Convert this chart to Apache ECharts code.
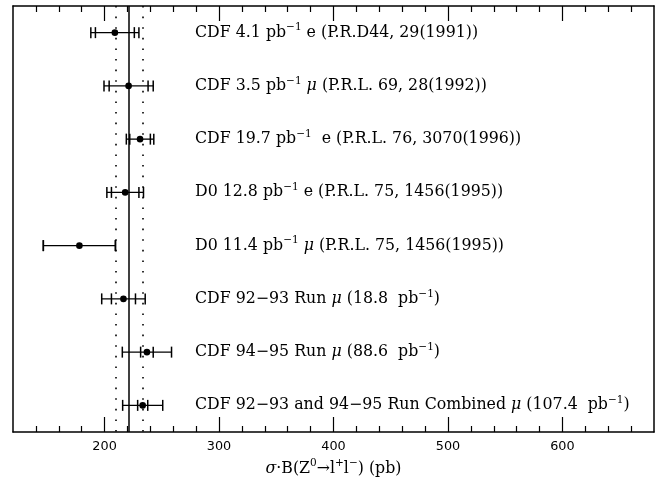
<!DOCTYPE html>
<html>
<head>
<meta charset="utf-8">
<script src="https://cdn.jsdelivr.net/npm/echarts@6/dist/echarts.min.js"></script>
<style>html,body{margin:0;padding:0;background:#fff;}#c{width:665px;height:478px;}</style>
</head>
<body>
<div id="c"></div>
<script>
// ---- data ----
const labels = [
  'CDF 4.1 pb{sup|−1} e (P.R.D44, 29(1991))',
  'CDF 3.5 pb{sup|−1} {it|μ} (P.R.L. 69, 28(1992))',
  'CDF 19.7 pb{sup|−1}  e (P.R.L. 76, 3070(1996))',
  'D0 12.8 pb{sup|−1} e (P.R.L. 75, 1456(1995))',
  'D0 11.4 pb{sup|−1} {it|μ} (P.R.L. 75, 1456(1995))',
  'CDF 92−93 Run {it|μ} (18.8  pb{sup|−1})',
  'CDF 94−95 Run {it|μ} (88.6  pb{sup|−1})',
  'CDF 92−93 and 94−95 Run Combined {it|μ} (107.4  pb{sup|−1})'
];
const centers  = [209, 221, 231, 218, 178, 216.5, 237, 233.3];
const innerErr = [17, 17, 9, 12, 31.5, 10.5, 5.5, 4.4];
const outerErr = [21, 21.5, 12, 16, 31.5, 19, 21.5, 17.5];
const theory = 221.5;
const theoryErr = 11.5;
const majorTicks = [200, 300, 400, 500, 600];
const minorTicks = [140, 160, 180, 220, 240, 260, 280, 320, 340, 360, 380, 420, 440, 460, 480, 520, 540, 560, 580, 620, 640, 660];
const xMin = 120, xMax = 680;
const labelX = 279;
const axisTitle = '{it|σ}·B(Z{sup|0}→l{sup|+}l{sup|−}) (pb)';

// ---- chart ----
const rows = labels.map((_, i) => 'r' + i);
const data = centers.map((c, i) => [c, i, c - innerErr[i], c + innerErr[i], c - outerErr[i], c + outerErr[i]]);

const serif = '"DejaVu Serif"';
const FS = 15.8;
const rich = {
  sup: { fontFamily: serif, fontSize: 10.5, lineHeight: 10, verticalAlign: 'top', fill: '#000' },
  it: { fontFamily: serif, fontSize: FS, fontStyle: 'italic', lineHeight: 21, fill: '#000' }
};

const chart = echarts.init(document.getElementById('c'), null, { renderer: 'canvas' });

function xAxisDef(pos, ticks, len, showLine, withLabel) {
  const a = {
    type: 'value', position: pos, min: xMin, max: xMax,
    splitLine: { show: false },
    axisLine: { show: showLine, lineStyle: { color: '#000', width: 1.5 } },
    axisTick: { show: true, inside: true, length: len, customValues: ticks, lineStyle: { color: '#000', width: 1.2 } },
    axisLabel: { show: false }
  };
  if (withLabel) {
    a.axisLabel = { show: true, customValues: majorTicks, color: '#000', fontFamily: '"DejaVu Sans"', fontSize: 12.8, margin: 8 };
    a.name = axisTitle;
    a.nameLocation = 'middle';
    a.nameGap = 24;
    a.nameTextStyle = {
      color: '#000', fontFamily: serif, fontSize: FS, lineHeight: 21,
      rich: {
        sup: { fontFamily: serif, fontSize: 10.5, lineHeight: 10, verticalAlign: 'top', color: '#000' },
        it: { fontFamily: serif, fontSize: FS, fontStyle: 'italic', lineHeight: 21, color: '#000' }
      }
    };
  }
  return a;
}

const option = {
  backgroundColor: '#fff',
  animation: false,
  grid: { left: 13, right: 11, top: 6, bottom: 46, outerBoundsMode: 'none', containLabel: false },
  xAxis: [
    xAxisDef('bottom', majorTicks, 15, true, true),
    xAxisDef('bottom', minorTicks, 6, false, false),
    xAxisDef('top', majorTicks, 15, true, false),
    xAxisDef('top', minorTicks, 6, false, false)
  ],
  yAxis: [
    { type: 'category', data: rows, inverse: true, position: 'left',
      axisLine: { show: true, lineStyle: { color: '#000', width: 1.5 } },
      axisTick: { show: false }, axisLabel: { show: false }, splitLine: { show: false } },
    { type: 'category', data: rows, inverse: true, position: 'right',
      axisLine: { show: true, lineStyle: { color: '#000', width: 1.5 } },
      axisTick: { show: false }, axisLabel: { show: false }, splitLine: { show: false } }
  ],
  series: [{
    type: 'custom',
    xAxisIndex: 0, yAxisIndex: 0,
    data: data,
    encode: { x: 0, y: 1 },
    renderItem: function (params, api) {
      const y = api.value(1);
      const p = api.coord([api.value(0), y]);
      const xs = [2, 3, 4, 5].map(k => api.coord([api.value(k), y])[0]);
      const cap = 5.5;
      const ls = { stroke: '#000', lineWidth: 1.3 };
      const children = [
        { type: 'line', shape: { x1: xs[2], y1: p[1], x2: xs[3], y2: p[1] }, style: ls }
      ];
      xs.forEach(x => children.push({ type: 'line', shape: { x1: x, y1: p[1] - cap, x2: x, y2: p[1] + cap }, style: { stroke: '#000', lineWidth: 1.5 } }));
      children.push({ type: 'circle', shape: { cx: p[0], cy: p[1], r: 3.3 }, style: { fill: '#000' } });
      const lx = api.coord([labelX, y])[0];
      children.push({
        type: 'text',
        style: {
          x: lx, y: p[1], text: labels[params.dataIndex],
          fontFamily: serif, fontSize: FS, lineHeight: 21, fill: '#000',
          align: 'left', verticalAlign: 'middle', rich: rich
        }
      });
      return { type: 'group', children: children };
    },
    markLine: {
      silent: true, symbol: 'none', label: { show: false },
      data: [
        { xAxis: theory, lineStyle: { color: '#000', width: 1.5, type: 'solid' } },
        { xAxis: theory - theoryErr, lineStyle: { color: '#000', width: 1.6, type: [1.6, 9] } },
        { xAxis: theory + theoryErr, lineStyle: { color: '#000', width: 1.6, type: [1.6, 9] } }
      ]
    }
  }]
};
chart.setOption(option);
</script>
</body>
</html>
